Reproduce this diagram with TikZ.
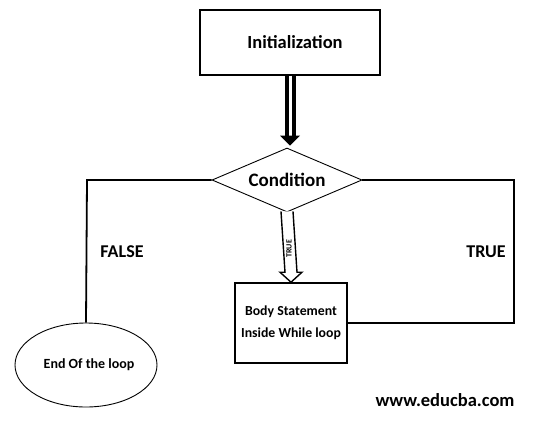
\documentclass[tikz,border=0pt]{standalone}
\usepackage{fontspec}
\setmainfont{Carlito}
\usetikzlibrary{shapes.geometric,calc}
\begin{document}
\begin{tikzpicture}[x=1pt,y=-1pt,
  boxst/.style={draw,line width=1.6pt,rectangle,inner sep=0pt,font=\bfseries},
  link/.style={draw,line width=1.8pt},
  lbl/.style={font=\bfseries\fontsize{18}{21}\selectfont,inner sep=0pt}]
\useasboundingbox (0,0) rectangle (533,432);
\node[boxst,minimum width=180pt,minimum height=65pt,font=\bfseries\fontsize{18.5}{22}\selectfont] (init) at (290,42.5) {\hspace*{10pt}Initialization};
\node[draw,line width=0.9pt,diamond,aspect=2.34,minimum width=150pt,minimum height=64pt,inner sep=0pt,font=\bfseries\fontsize{19}{22}\selectfont] (cond) at (287,180) {Condition};
\node[boxst,minimum width=112pt,minimum height=80pt,align=center,font=\bfseries\fontsize{13.8}{22}\selectfont] (body) at (291,323) {Body Statement\\Inside While loop};
\node[draw,line width=0.9pt,ellipse,minimum width=142pt,minimum height=84pt,inner sep=0pt,font=\bfseries\fontsize{14}{16}\selectfont] (end) at (86,365) {\hspace*{6pt}End Of the loop};
% double arrow init -> cond
\coordinate (a1) at (init.south);
\coordinate (a2) at (init.south |- cond.north);
\draw[line width=4pt,double=white,double distance=3pt] (a1) -- ($(a2)+(0,-11)$);
\fill ($(a2)+(0,-2)$) -- ($(a2)+(-10,-12)$) -- ($(a2)+(10,-12)$) -- cycle;
% TRUE hollow arrow cond -> body
\coordinate (t1) at (cond.south);
\coordinate (t2) at (body.north);
\draw[line width=1.4pt,fill=white] ($(t1)+(-6,-1)$) -- ($(t2)+(-6,-10)$) -- ($(t2)+(-11,-10)$) -- (t2) -- ($(t2)+(11,-10)$) -- ($(t2)+(6,-10)$) -- ($(t1)+(6,-1)$);
\node[rotate=90,font=\bfseries\fontsize{8}{9}\selectfont,inner sep=0pt] (tlab) at ($(t1)!0.52!(t2)$) {TRUE};
% FALSE branch
\coordinate (fl) at (87,180);
\draw[link] (cond.west) -- (fl) -- (end.north);
% TRUE loop back
\coordinate (r1) at (514,180);
\coordinate (r2) at (514,323);
\draw[link] (cond.east) -- (r1) -- (r2) -- (body.east |- r2);
% labels
\node[lbl] (flab) at (122,252) {FALSE};
\node[lbl] (trlab) at (486,252) {TRUE};
\node[lbl,font=\bfseries\fontsize{18.5}{21}\selectfont] (web) at (445,400) {www.educba.com};
\end{tikzpicture}
\end{document}
